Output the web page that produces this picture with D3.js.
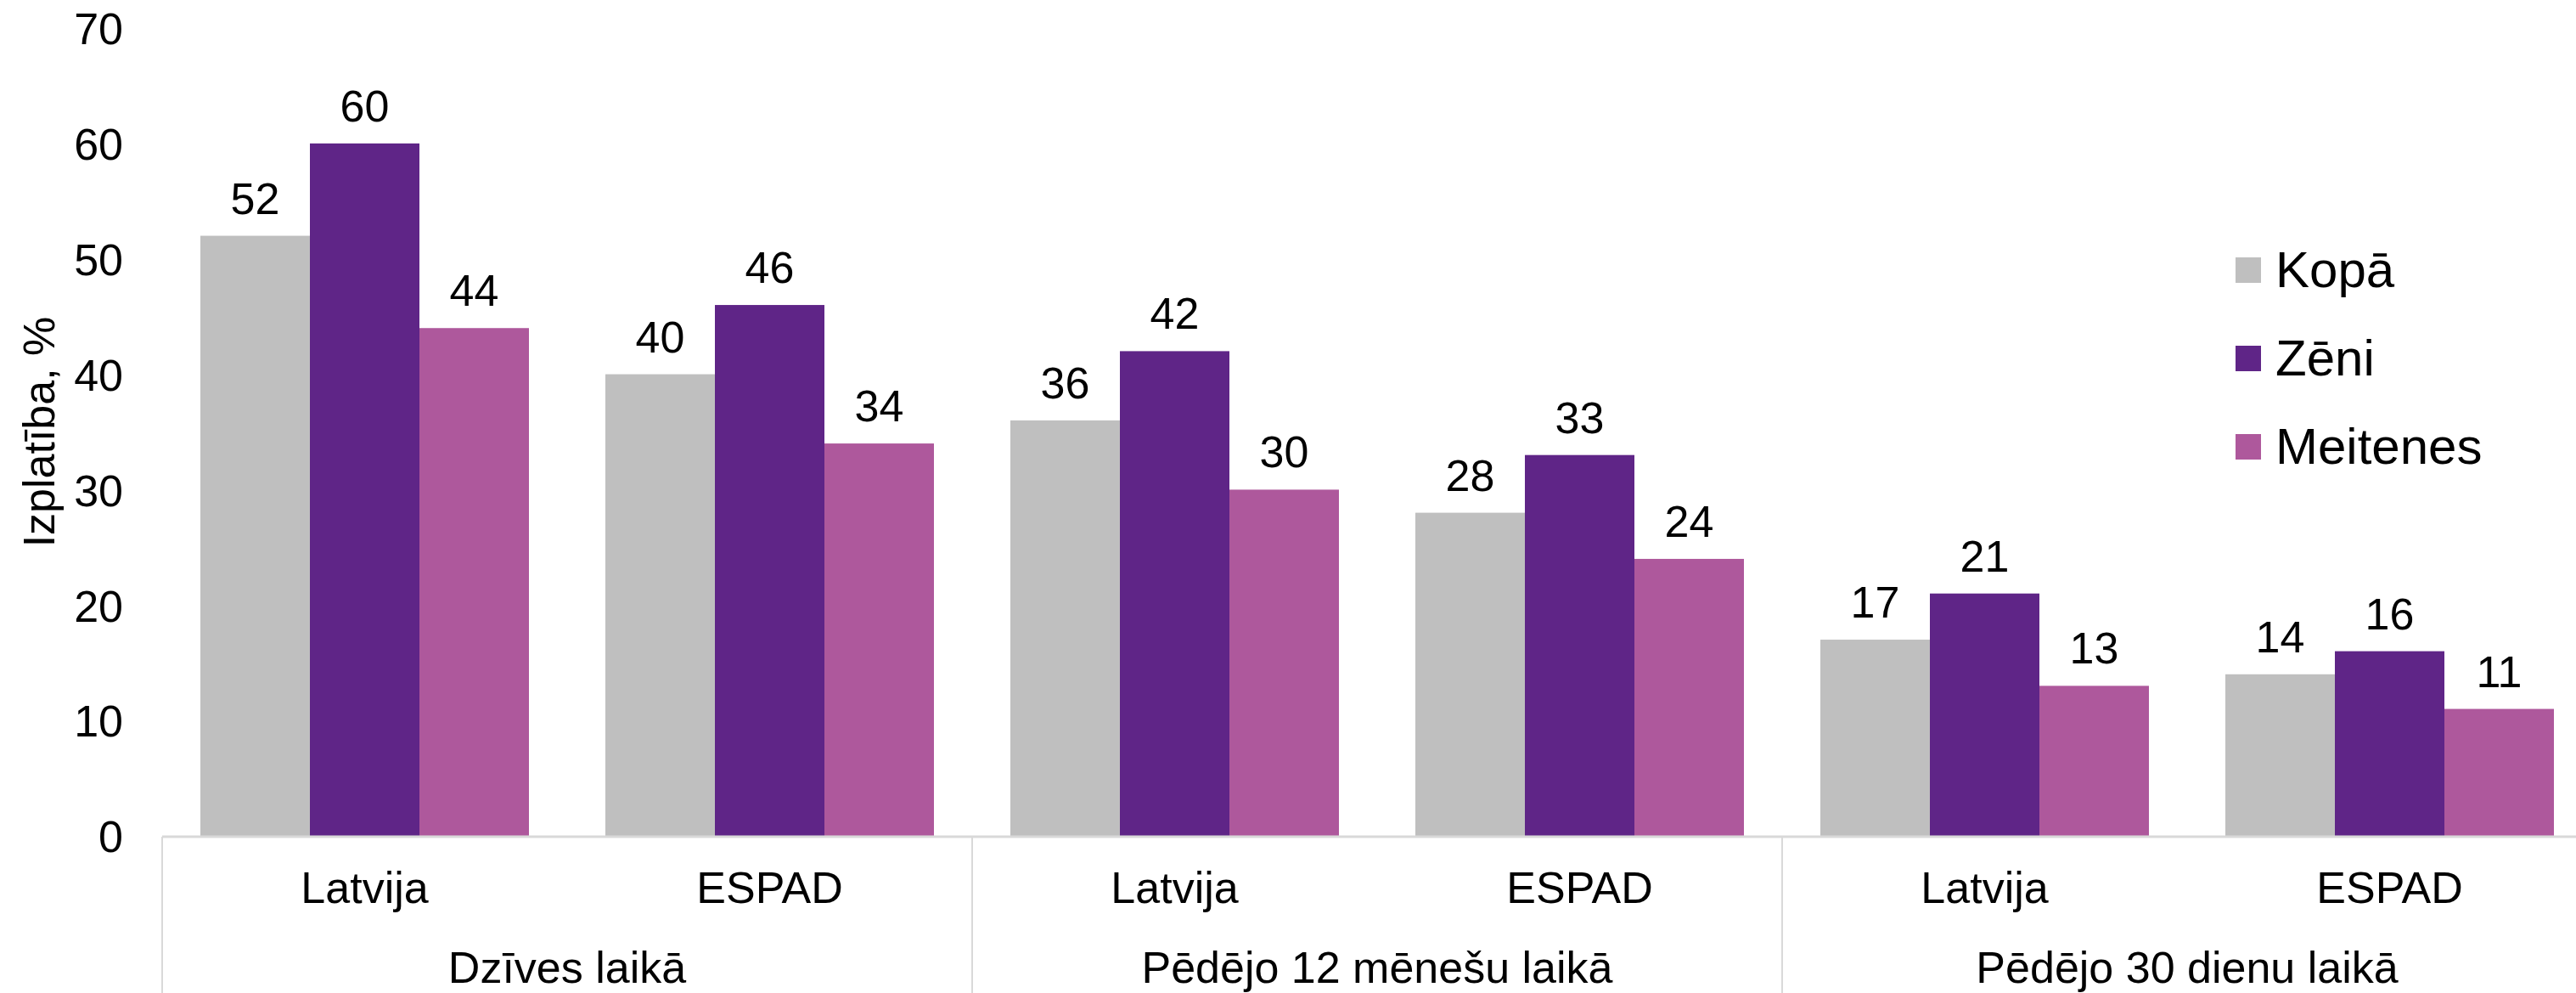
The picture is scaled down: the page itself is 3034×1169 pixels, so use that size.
<!DOCTYPE html>
<html>
<head>
<meta charset="utf-8">
<script src="https://cdn.jsdelivr.net/npm/d3@7/dist/d3.min.js"></script>
<style>
  html, body { margin: 0; padding: 0; background: #fff; overflow: hidden; }
  svg { display: block; }
  text { font-family: "Liberation Sans", Arial, sans-serif; fill: #000; }
</style>
</head>
<body>
<svg id="chart" width="3034" height="1169"></svg>
<script>
// ---- data ----
const groups = ["Dzīves laikā", "Pēdējo 12 mēnešu laikā", "Pēdējo 30 dienu laikā"];
const subcategories = ["Latvija", "ESPAD"];
const seriesNames = ["Kopā", "Zēni", "Meitenes"];
const kopa = [52, 40, 36, 28, 17, 14];
const zeni = [60, 46, 42, 33, 21, 16];
const meitenes = [44, 34, 30, 24, 13, 11];
const yTicks = [0, 10, 20, 30, 40, 50, 60, 70];
const yTitle = "Izplatība, %";
const colors = ["#BFBFBF", "#5F2587", "#AE589C"];

const seriesValues = [kopa, zeni, meitenes];

// ---- layout ----
const svg = d3.select("#chart");
const W = 3034, H = 1169;
const mLeft = 191, mRight = 3053, mTop = 33, mBottom = 984;

const cats = [];
groups.forEach((g, gi) => subcategories.forEach((s, si) => cats.push({ key: gi + "|" + si, group: g, sub: s, idx: gi * subcategories.length + si })));

const x0 = d3.scaleBand().domain(cats.map(c => c.key)).range([mLeft, mRight]).paddingInner(0).paddingOuter(0);
const x1 = d3.scaleBand().domain(seriesNames).range([0, x0.bandwidth()]).paddingInner(0).paddingOuter(0.349);
const y = d3.scaleLinear().domain([0, 70]).range([mBottom, mTop]);

const gx = d3.scaleBand().domain(groups).range([mLeft, mRight]);

// bars
const barData = [];
cats.forEach(c => seriesNames.forEach((s, si) => barData.push({ cat: c, series: s, si, value: seriesValues[si][c.idx] })));

svg.append("g").selectAll("rect").data(barData).join("rect")
  .attr("x", d => x0(d.cat.key) + x1(d.series))
  .attr("y", d => y(d.value))
  .attr("width", x1.bandwidth())
  .attr("height", d => y(0) - y(d.value))
  .attr("fill", d => colors[d.si]);

// data labels
svg.append("g").selectAll("text").data(barData).join("text")
  .attr("x", d => x0(d.cat.key) + x1(d.series) + x1.bandwidth() / 2)
  .attr("y", d => y(d.value) - 26)
  .attr("text-anchor", "middle")
  .attr("font-size", 52)
  .text(d => d.value);

// y axis (labels only)
const yAxis = d3.axisLeft(y).tickValues(yTicks).tickSize(0).tickPadding(0);
const ya = svg.append("g").attr("transform", `translate(145,0)`).call(yAxis);
ya.select(".domain").remove();
ya.selectAll("text").attr("font-size", 52).attr("font-family", "Liberation Sans, Arial, sans-serif").attr("fill", "#000").attr("dy", "0.36em");

// y title
svg.append("text")
  .attr("transform", `translate(64,${(mTop + mBottom) / 2}) rotate(-90)`)
  .attr("text-anchor", "middle")
  .attr("font-size", 52)
  .text(yTitle);

// x axis line
svg.append("line")
  .attr("x1", mLeft).attr("x2", mRight)
  .attr("y1", mBottom + 1).attr("y2", mBottom + 1)
  .attr("stroke", "#D9D9D9").attr("stroke-width", 3);

// group separators
const seps = groups.map(g => gx(g)).concat([mRight]);
svg.append("g").selectAll("line").data(seps).join("line")
  .attr("x1", d => d).attr("x2", d => d)
  .attr("y1", mBottom + 1).attr("y2", H)
  .attr("stroke", "#D9D9D9").attr("stroke-width", 2);

// subcategory labels
svg.append("g").selectAll("text").data(cats).join("text")
  .attr("x", d => x0(d.key) + x0.bandwidth() / 2)
  .attr("y", 1063)
  .attr("text-anchor", "middle")
  .attr("font-size", 52)
  .text(d => d.sub);

// group labels
svg.append("g").selectAll("text").data(groups).join("text")
  .attr("x", d => gx(d) + gx.bandwidth() / 2)
  .attr("y", 1157)
  .attr("text-anchor", "middle")
  .attr("font-size", 52)
  .text(d => d);

// legend
const legend = svg.append("g").attr("transform", "translate(2633,0)");
const legY = [318, 422, 526];
const li = legend.selectAll("g").data(seriesNames).join("g")
  .attr("transform", (d, i) => `translate(0,${legY[i]})`);
li.append("rect").attr("x", 0).attr("y", -15).attr("width", 30).attr("height", 30)
  .attr("fill", (d, i) => colors[i]);
li.append("text").attr("x", 47).attr("y", 20).attr("font-size", 60).text(d => d);
</script>
</body>
</html>
